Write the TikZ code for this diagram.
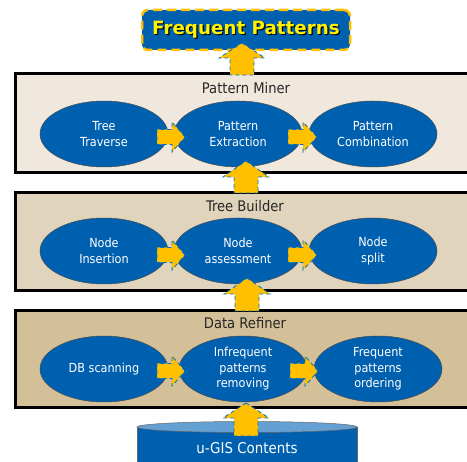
\documentclass[tikz,border=0pt]{standalone}
\usepackage{fontspec}
\setmainfont{DejaVu Sans Condensed}
\newfontfamily\boldfp{DejaVu Sans}
\usetikzlibrary{shapes.geometric}
\definecolor{elblue}{RGB}{0,96,176}
\definecolor{ylw}{RGB}{255,192,0}
\definecolor{boxA}{RGB}{240,232,220}
\definecolor{boxB}{RGB}{224,212,188}
\definecolor{boxC}{RGB}{212,192,152}
\definecolor{cyltop}{RGB}{100,160,210}
\definecolor{dashblue}{RGB}{0,112,192}
\tikzset{
  layerbox/.style={draw=black, line width=3pt},
  proc/.style={ellipse, draw=black!70, line width=0.5pt, fill=elblue, text=white,
    minimum width=128pt, minimum height=66pt, align=center, inner sep=0pt,
    font=\fontsize{12.5}{15.5}\selectfont},
  layertitle/.style={font=\fontsize{14.6}{17}\selectfont, text=black!85},
  blockarrow/.style={fill=ylw, draw=dashblue, line width=0.8pt, dash pattern=on 4pt off 3pt},
}
\newcommand{\myuparr}[4]{% center x, tip y, head base y, bottom y
  \path[blockarrow] (#1,#2) -- ({#1+23},#3) -- ({#1+12},#3) -- ({#1+12},#4)
    -- ({#1-12},#4) -- ({#1-12},#3) -- ({#1-23},#3) -- cycle;}
\newcommand{\myrightarr}[4]{% center y, start x, head base x, tip x
  \path[blockarrow] (#4,#1) -- (#3,{#1-15}) -- (#3,{#1-7.5}) -- (#2,{#1-7.5})
    -- (#2,{#1+7.5}) -- (#3,{#1+7.5}) -- (#3,{#1+15}) -- cycle;}
\begin{document}
\begin{tikzpicture}[x=1pt,y=-1pt]
\useasboundingbox (0,0) rectangle (467,462);
\clip (0,0) rectangle (467,462);
\fill[white] (0,0) rectangle (467,462);

% layers
\draw[layerbox, fill=boxA] (15,74) rectangle (490,173);
\draw[layerbox, fill=boxB] (15,193) rectangle (490,291);
\draw[layerbox, fill=boxC] (15,311) rectangle (490,408);

\node[layertitle] (tpm) at (246,88) {Pattern Miner};
\node[layertitle] (ttb) at (245,206) {Tree Builder};
\node[layertitle] (tdr) at (245,323) {Data Refiner};

% processes
\node[proc] (tt) at (104,134) {Tree\\Traverse};
\node[proc] (pe) at (238,134) {Pattern\\Extraction};
\node[proc] (pc) at (373,134) {Pattern\\Combination};

\node[proc] (ni) at (104,251) {Node\\Insertion};
\node[proc] (na) at (238,251) {Node\\assessment};
\node[proc] (ns) at (373,251) {Node\\split};

\node[proc] (db) at (104,369) {DB scanning};
\node[proc] (ip) at (243,369) {Infrequent\\patterns\\removing};
\node[proc] (fp) at (378,369) {Frequent\\patterns\\ordering};

% database cylinder
\fill[elblue] (137,427) rectangle (357,475);
\draw[black!60, line width=0.5pt] (137,475) -- (137,427) (357,427) -- (357,475);
\draw[black!60, line width=0.5pt, fill=cyltop] (247,427) ellipse [x radius=110, y radius=5.5];
\node[text=white, font=\fontsize{14.9}{17}\selectfont] (db0) at (247,448) {u-GIS Contents};

% result box
\node[draw=ylw, line width=2.5pt, dash pattern=on 9pt off 5pt, fill=elblue,
  rounded corners=6pt, minimum width=208pt, minimum height=40pt] (res) at (246,30) {};
\node[text=black, font=\boldfp\bfseries\fontsize{18.3}{20}\selectfont] at ([xshift=1.2pt,yshift=-1.2pt]res.center) {Frequent Patterns};
\node[text=yellow, font=\boldfp\bfseries\fontsize{18.3}{20}\selectfont] (restext) at (res.center) {Frequent Patterns};

% block arrows
\myuparr{242}{43}{58}{75}
\myuparr{246}{161}{177}{193}
\myuparr{247}{278}{294}{311}
\myuparr{246}{403}{418}{436}

\myrightarr{137}{157}{172}{185}
\myrightarr{137}{288}{303}{317}
\myrightarr{255}{157}{172}{185}
\myrightarr{255}{288}{303}{317}
\myrightarr{371}{157}{172}{185}
\myrightarr{371}{290}{305}{318}
\end{tikzpicture}
\end{document}
